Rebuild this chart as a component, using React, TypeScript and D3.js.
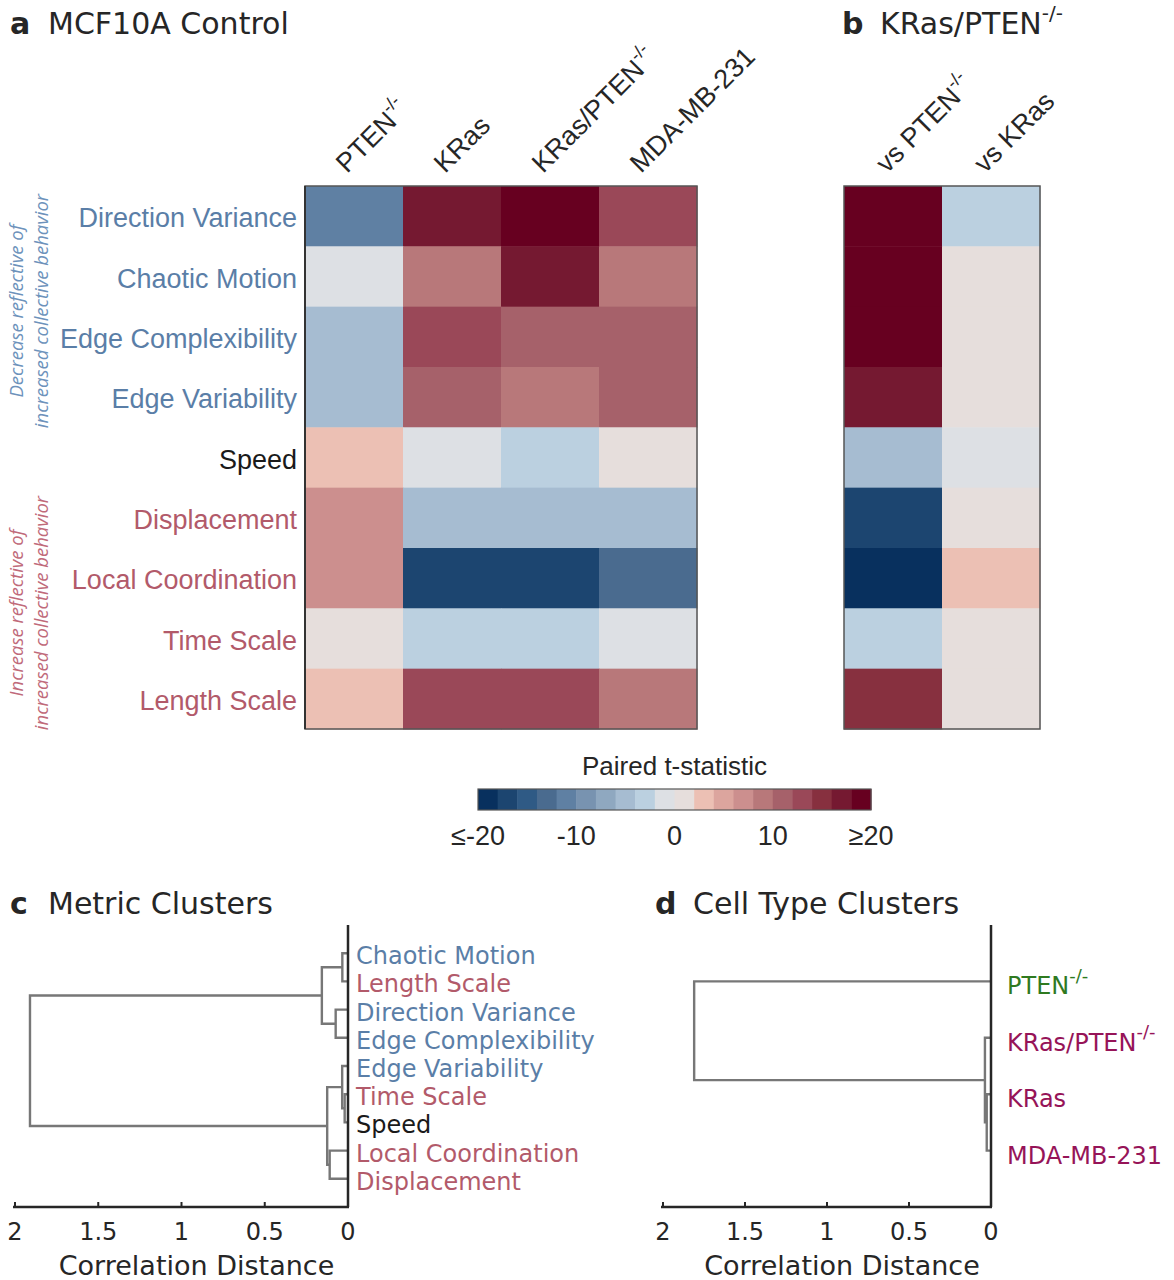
import React from "react";
import * as d3 from "d3";

// ---- data ----
const metrics = [
  "Direction Variance",
  "Chaotic Motion",
  "Edge Complexibility",
  "Edge Variability",
  "Speed",
  "Displacement",
  "Local Coordination",
  "Time Scale",
  "Length Scale",
];
const metricGroup = ["dec", "dec", "dec", "dec", "none", "inc", "inc", "inc", "inc"];

const cellTypes = ["PTEN", "KRas", "KRas/PTEN", "MDA-MB-231"];
const cellTypeSup = [true, false, true, false];

// paired t-statistic vs MCF10A control, rows = metrics, cols = cellTypes
const controlT = [
  [-11, 17, 21, 13],
  [-1, 9, 17, 9],
  [-5, 13, 11, 11],
  [-5, 11, 9, 11],
  [3, -1, -3, 1],
  [7, -5, -5, -5],
  [7, -17, -17, -13],
  [1, -3, -3, -1],
  [3, 13, 13, 9],
];

const compareCols = ["vs PTEN", "vs KRas"];
const compareSup = [true, false];
const vsPten = [21, 21, 21, 17, -5, -17, -21, -3, 15];
const vsKras = [-3, 1, 1, 1, -1, 1, 3, 1, 1];

const binColors = [
  "#08305e", "#1c4570", "#2f5a85", "#4a6b8f", "#5f80a3",
  "#7893b0", "#8fa8c0", "#a6bcd1", "#bbd0e0", "#dde0e4",
  "#e6dedc", "#ecc0b4", "#dca59e", "#cc8f8e", "#b8787a",
  "#a6616a", "#9a4858", "#87303f", "#751931", "#670020",
];
const cbarTicks = [-20, -10, 0, 10, 20];
const cbarTickLabels = ["≤-20", "-10", "0", "10", "≥20"];

// dendrogram c (linkage: [a, b, height], new nodes numbered after leaves)
const metricLeaves = [
  "Chaotic Motion",
  "Length Scale",
  "Direction Variance",
  "Edge Complexibility",
  "Edge Variability",
  "Time Scale",
  "Speed",
  "Local Coordination",
  "Displacement",
];
const metricLeafGroup = ["dec", "inc", "dec", "dec", "dec", "inc", "none", "inc", "inc"];
const metricLinks: [number, number, number][] = [
  [0, 1, 0.034],
  [2, 3, 0.074],
  [5, 6, 0.02],
  [4, 11, 0.035],
  [7, 8, 0.11],
  [9, 10, 0.157],
  [12, 13, 0.125],
  [14, 15, 1.91],
];

// dendrogram d
const cellLeaves = ["PTEN", "KRas/PTEN", "KRas", "MDA-MB-231"];
const cellLeafSup = [true, true, false, false];
const cellLeafColor = ["#2f7a1f", "#961458", "#961458", "#961458"];
const cellLinks: [number, number, number][] = [
  [2, 3, 0.026],
  [1, 4, 0.037],
  [0, 5, 1.81],
];
const distTicks = [2, 1.5, 1, 0.5, 0];

// ---- styles ----
const groupColor: Record<string, string> = { dec: "#5a7ea7", inc: "#b25a6a", none: "#1a1a1a" };
const sideColor: Record<string, string> = { dec: "#6d92bb", inc: "#c06a7a" };
const ARIAL = "'Liberation Sans', Arial, sans-serif";
const VERD = "'DejaVu Sans', Verdana, sans-serif";
const INK = "#262626";

const color = d3.scaleQuantize<string>().domain([-20, 20]).range(binColors);

function Sup({ size }: { size: number }) {
  return (
    <tspan fontSize={size} dy={-size * 0.7}>
      -/-
    </tspan>
  );
}

function Title({ x, letter, textX, label, sup }: { x: number; letter: string; textX: number; label: string; sup?: boolean }) {
  return (
    <g fontFamily={VERD} fontSize={30} fill={INK}>
      <text x={x} y={34} fontWeight="bold">
        {letter}
      </text>
      <text x={textX} y={34}>
        {label}
        {sup && <Sup size={20} />}
      </text>
    </g>
  );
}

function Dendro({
  leaves,
  links,
  x0,
  x2,
  yTop,
  yBot,
  label,
}: {
  leaves: string[];
  links: [number, number, number][];
  x0: number;
  x2: number;
  yTop: number;
  yBot: number;
  label: (name: string, i: number, y: number) => React.ReactNode;
}) {
  const x = d3.scaleLinear().domain([2, 0]).range([x2, x0]);
  const y = d3
    .scalePoint<number>()
    .domain(leaves.map((_, i) => i))
    .range([yTop, yBot])
    .padding(1);
  const pos: { y: number; h: number }[] = leaves.map((_, i) => ({ y: y(i)!, h: 0 }));
  const paths: string[] = [];
  links.forEach(([a, b, h]) => {
    const A = pos[a];
    const B = pos[b];
    const p = d3.path();
    p.moveTo(x(A.h), A.y);
    p.lineTo(x(h), A.y);
    p.lineTo(x(h), B.y);
    p.lineTo(x(B.h), B.y);
    paths.push(p.toString());
    pos.push({ y: (A.y + B.y) / 2, h });
  });
  return (
    <g>
      {paths.map((d, i) => (
        <path key={i} d={d} fill="none" stroke="#777" strokeWidth={2.4} />
      ))}
      <line x1={x(0)} x2={x(0)} y1={yTop} y2={yBot} stroke={INK} strokeWidth={2.5} />
      <line x1={x(2) - 2} x2={x(0) + 1} y1={yBot} y2={yBot} stroke={INK} strokeWidth={2.5} />
      {distTicks.map((t) => (
        <g key={t}>
          <line x1={x(t)} x2={x(t)} y1={yBot} y2={yBot - 5} stroke={INK} strokeWidth={2} />
          <text x={x(t)} y={yBot + 33} textAnchor="middle" fontFamily={VERD} fontSize={24} fill={INK}>
            {t}
          </text>
        </g>
      ))}
      <text
        x={(x(2) + x(0)) / 2 + 15}
        y={yBot + 68}
        textAnchor="middle"
        fontFamily={VERD}
        fontSize={27}
        fill={INK}
      >
        Correlation Distance
      </text>
      {leaves.map((n, i) => label(n, i, y(i)!))}
    </g>
  );
}

export default function App() {
  const yTop = 186;
  const yBot = 729;
  const y = d3.scaleBand<number>().domain(metrics.map((_, i) => i)).range([yTop, yBot]);
  const xa = d3.scaleBand<number>().domain(cellTypes.map((_, i) => i)).range([305, 697]);
  const xb = d3.scaleBand<number>().domain(compareCols.map((_, i) => i)).range([844, 1040]);
  const compareVals = [vsPten, vsKras];
  const cb = d3.scaleLinear().domain([-20, 20]).range([478, 871]);
  const binW = (cb(20) - cb(-20)) / binColors.length;

  return (
    <svg
      width={1174}
      height={1280}
      style={{ position: "absolute", left: 0, top: 0, background: "#fff" }}
    >
      {/* titles */}
      <Title x={10} letter="a" textX={48} label="MCF10A Control" />
      <Title x={842} letter="b" textX={880} label="KRas/PTEN" sup />

      {/* panel a heatmap */}
      {controlT.map((row, r) =>
        row.map((v, c) => (
          <rect
            key={`a${r}-${c}`}
            x={xa(c)}
            y={y(r)}
            width={xa.bandwidth() + 0.5}
            height={y.bandwidth() + 0.5}
            fill={color(v)}
          />
        ))
      )}
      <rect x={305} y={yTop} width={392} height={yBot - yTop} fill="none" stroke="#555" strokeWidth={1.5} />
      <line x1={305} x2={305} y1={yTop} y2={yBot} stroke="#333" strokeWidth={2} />

      {cellTypes.map((n, c) => {
        const cx = xa(c)! + xa.bandwidth() / 2 - 7;
        return (
          <text
            key={n}
            x={cx}
            y={174}
            transform={`rotate(-45 ${cx} 174)`}
            fontFamily={ARIAL}
            fontSize={27}
            fill={INK}
          >
            {n}
            {cellTypeSup[c] && <Sup size={18} />}
          </text>
        );
      })}

      {metrics.map((m, r) => (
        <text
          key={m}
          x={297}
          y={y(r)! + y.bandwidth() / 2 + 11}
          textAnchor="end"
          fontFamily={ARIAL}
          fontSize={27}
          fill={groupColor[metricGroup[r]]}
        >
          {m}
        </text>
      ))}

      {/* side annotations */}
      {[
        { g: "dec", cy: 311, l1: "Decrease reflective of" },
        { g: "inc", cy: 613, l1: "Increase reflective of" },
      ].map((s) => (
        <g key={s.g} fontFamily="'Open Sans', sans-serif" fontStyle="italic" fontSize={18.5} fill={sideColor[s.g]}>
          <text x={23} y={s.cy} textAnchor="middle" transform={`rotate(-90 23 ${s.cy})`}>
            {s.l1}
          </text>
          <text x={48} y={s.cy} textAnchor="middle" transform={`rotate(-90 48 ${s.cy})`}>
            increased collective behavior
          </text>
        </g>
      ))}

      {/* panel b heatmap */}
      {compareVals.map((col, c) =>
        col.map((v, r) => (
          <rect
            key={`b${r}-${c}`}
            x={xb(c)}
            y={y(r)}
            width={xb.bandwidth() + 0.5}
            height={y.bandwidth() + 0.5}
            fill={color(v)}
          />
        ))
      )}
      <rect x={844} y={yTop} width={196} height={yBot - yTop} fill="none" stroke="#555" strokeWidth={1.5} />
      {compareCols.map((n, c) => {
        const cx = xb(c)! + xb.bandwidth() / 2 - 6;
        return (
          <text
            key={n}
            x={cx}
            y={174}
            transform={`rotate(-45 ${cx} 174)`}
            fontFamily={ARIAL}
            fontSize={27}
            fill={INK}
          >
            {n}
            {compareSup[c] && <Sup size={18} />}
          </text>
        );
      })}

      {/* colorbar */}
      <text x={cb(0)} y={775} textAnchor="middle" fontFamily={ARIAL} fontSize={26} fill={INK}>
        Paired t-statistic
      </text>
      {binColors.map((c, i) => (
        <rect key={c} x={cb(-20) + i * binW} y={789} width={binW + 0.5} height={21} fill={c} />
      ))}
      <rect x={cb(-20)} y={789} width={cb(20) - cb(-20)} height={21} fill="none" stroke="#555" strokeWidth={1.2} />
      {cbarTicks.map((t, i) => (
        <text key={t} x={cb(t)} y={845} textAnchor="middle" fontFamily={ARIAL} fontSize={27} fill={INK}>
          {cbarTickLabels[i]}
        </text>
      ))}

      {/* panel c */}
      <g transform="translate(0,880)">
        <Title x={10} letter="c" textX={48} label="Metric Clusters" />
      </g>
      <Dendro
        leaves={metricLeaves}
        links={metricLinks}
        x0={348}
        x2={15}
        yTop={925}
        yBot={1207}
        label={(n, i, yy) => (
          <text
            key={n}
            x={356}
            y={yy + 11}
            fontFamily={VERD}
            fontSize={24}
            fill={groupColor[metricLeafGroup[i]]}
          >
            {n}
          </text>
        )}
      />

      {/* panel d */}
      <g transform="translate(0,880)">
        <Title x={655} letter="d" textX={693} label="Cell Type Clusters" />
      </g>
      <Dendro
        leaves={cellLeaves}
        links={cellLinks}
        x0={991}
        x2={663}
        yTop={925}
        yBot={1207}
        label={(n, i, yy) => (
          <text key={n} x={1007} y={yy + 13} fontFamily={VERD} fontSize={24} fill={cellLeafColor[i]}>
            {n}
            {cellLeafSup[i] && <Sup size={18} />}
          </text>
        )}
      />
    </svg>
  );
}
